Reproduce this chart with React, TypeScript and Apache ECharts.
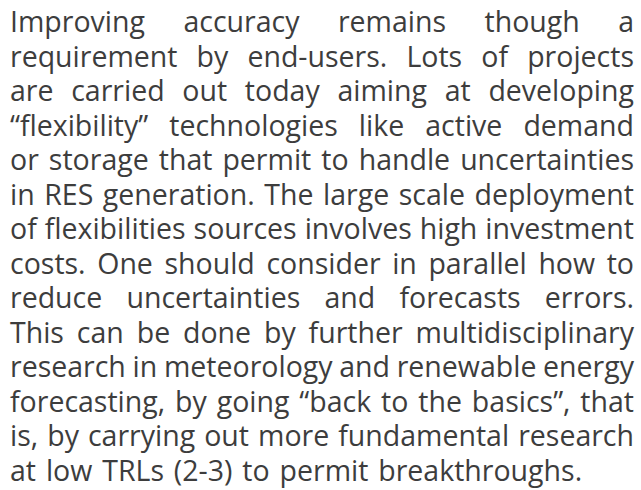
import React, { useEffect, useRef } from "react";
import * as echarts from "echarts";

const lines: string[] = [
  "Improving accuracy remains though a",
  "requirement by end-users. Lots of projects",
  "are carried out today aiming at developing",
  "\u201cflexibility\u201d technologies like active demand",
  "or storage that permit to handle uncertainties",
  "in RES generation. The large scale deployment",
  "of flexibilities sources involves high investment",
  "costs. One should consider in parallel how to",
  "reduce uncertainties and forecasts errors.",
  "This can be done by further multidisciplinary",
  "research in meteorology and renewable energy",
  "forecasting, by going \u201cback to the basics\u201d, that",
  "is, by carrying out more fundamental research",
  "at low TRLs (2-3) to permit breakthroughs.",
];

const FONT_FAMILY = "'Open Sans'";
const FONT_SIZE = 28.5;
const LEFT = 10;
const RIGHT = 634;
const FIRST_BASELINE = 32;
const PITCH = 34.5;
const LAST_LINE_EXTRA_GAP = 2.5;
const COLOR = "#3d3d3d";

export default function App() {
  const ref = useRef<HTMLDivElement>(null);
  useEffect(() => {
    document.body.style.margin = "0";
    const chart = echarts.init(ref.current!, null, { renderer: "svg" });
    const canvas = document.createElement("canvas");
    const ctx = canvas.getContext("2d")!;
    ctx.font = `${FONT_SIZE}px ${FONT_FAMILY}`;
    const spaceW = ctx.measureText(" ").width;
    const elements: any[] = [];
    lines.forEach((line, i) => {
      const words = line.split(" ");
      const widths = words.map((w) => ctx.measureText(w).width);
      const total = widths.reduce((a, b) => a + b, 0);
      const isLast = i === lines.length - 1;
      const gap = isLast || words.length < 2
        ? spaceW + LAST_LINE_EXTRA_GAP
        : (RIGHT - LEFT - total) / (words.length - 1);
      let x = LEFT;
      const y = FIRST_BASELINE + i * PITCH - 0.89 * FONT_SIZE;
      words.forEach((w, j) => {
        elements.push({
          type: "text",
          x,
          y,
          silent: true,
          style: {
            text: w,
            fill: COLOR,
            font: `${FONT_SIZE}px ${FONT_FAMILY}`,
            textAlign: "left",
            verticalAlign: "top",
          },
        });
        x += widths[j] + gap;
      });
    });
    chart.setOption({
      animation: false,
      backgroundColor: "#ffffff",
      graphic: { elements },
    });
    return () => chart.dispose();
  }, []);
  return <div ref={ref} style={{ width: 641, height: 490 }} />;
}
